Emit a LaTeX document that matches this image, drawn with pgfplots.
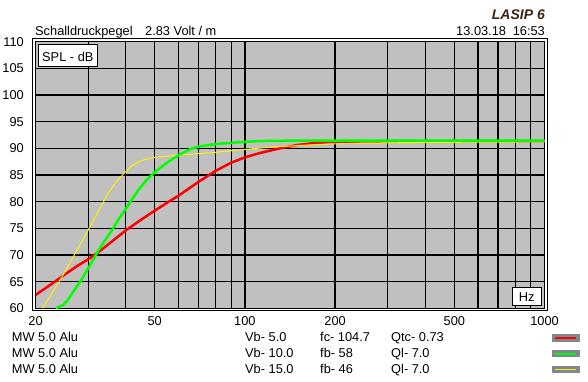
\documentclass[border=0pt]{standalone}
\usepackage{fontspec}
\setmainfont{Liberation Sans}
\usepackage{pgfplots}
\pgfplotsset{compat=1.18}
\definecolor{plotgray}{HTML}{C0C0C0}
\definecolor{swatch}{HTML}{7F8891}
\definecolor{lasip}{HTML}{3A2414}
\newcommand{\f}{\fontsize{12.8}{14}\selectfont}

\pgfplotstableread{
f db
20 62.5
21.5 63.7
23.2 65.0
25 66.3
27.5 67.9
30 69.2
32.4 70.5
35 72.0
40 74.6
45 76.6
50 78.3
55 79.8
60 81.1
70 83.7
80 85.8
90 87.3
100 88.3
112 89.1
131 90.0
149 90.6
172 91.0
208 91.2
250 91.3
400 91.35
1000 91.35
}\redtab

\pgfplotstableread{
f db
21.1 60.0
22.5 62.5
24.7 66.2
27 70.1
30 74.7
32.5 78.3
35 81.6
37.5 84.0
40 85.6
42 86.8
44.7 87.6
47 88.0
50 88.3
60 88.7
70 89.0
80 89.25
100 89.8
122 90.2
149 90.5
188 90.8
248 90.95
400 91.1
1000 91.2
}\yellowtab

\pgfplotstableread{
f db
23.4 60.0
24.0 60.3
24.7 60.6
25.5 61.4
26.5 62.8
28.2 65.0
30 67.5
32.4 70.8
34 72.6
36.2 74.9
38 76.8
40 78.6
42.5 80.9
44.7 82.6
47 84.1
50 85.5
54.9 87.3
60 88.7
65.4 89.8
70 90.3
80 90.8
96 91.15
112 91.35
150 91.45
1000 91.45
}\greentab

\begin{document}
\begin{tikzpicture}[x=1pt,y=1pt]
\path[use as bounding box] (0,0) rectangle (588,382);
\begin{axis}[
  at={(35.5pt,73.7pt)}, anchor=south west,
  scale only axis, width=509pt, height=266.7pt,
  xmode=log, xmin=20, xmax=1000, ymin=60, ymax=110,
  axis background/.style={fill=plotgray},
  xtick={20,30,40,50,60,70,80,90,100,200,300,400,500,600,700,800,900,1000},
  xticklabels={20,,,50,,,,,100,200,,,500,,,,,1000},
  ytick={60,65,70,75,80,85,90,95,100,105,110},
  yticklabels={60,65,70,75,80,85,90,95,100,105,110},
  minor xtick={},
  grid=major, major grid style={black, line width=1.2pt},
  major tick length=0pt,
  axis line style={black, line width=1.5pt},
  xticklabel style={font=\f, anchor=north, inner sep=0pt, yshift=-7.7pt},
  yticklabel style={font=\f, anchor=east, inner sep=0pt, xshift=-11.5pt},
]
\addplot[red, line width=2.5pt, line join=round] table[x=f,y=db] {\redtab};
\addplot[yellow, line width=1pt, line join=round] table[x=f,y=db] {\yellowtab};
\addplot[green, line width=2.5pt, line join=round] table[x=f,y=db] {\greentab};
\end{axis}
% outer frame
\draw[black, line width=1pt] (32.8,71.0) rectangle (547.2,343.1);
% SPL box
\draw[black, line width=1pt, fill=white] (38.5,315.5) rectangle (97,337);
\node[inner sep=0pt, anchor=base west, font=\f] at (42,320.5) {SPL - dB};
% Hz box
\draw[black, line width=1pt, fill=white] (512,76) rectangle (541.5,94);
\node[inner sep=0pt, anchor=base, font=\f] at (526.75,80.5) {Hz};
% titles
\node[inner sep=0pt, anchor=base west, font=\f] at (35,346) {Schalldruckpegel};
\node[inner sep=0pt, anchor=base west, font=\f] at (145,346) {2.83 Volt / m};
\node[inner sep=0pt, anchor=base west, font=\f] at (456,346) {13.03.18};
\node[inner sep=0pt, anchor=base east, font=\f] at (545,346) {16:53};
\node[inner sep=0pt, anchor=base east, text=lasip, font=\fontsize{14}{16}\selectfont\bfseries\itshape] at (545,362) {LASIP 6};
% bottom info
\foreach \yy/\a/\b/\c/\d in {40.3/MW 5.0 Alu/Vb- 5.0/fc- 104.7/Qtc- 0.73, 24.7/MW 5.0 Alu/Vb- 10.0/fb- 58/Ql- 7.0, 8/MW 5.0 Alu/Vb- 15.0/fb- 46/Ql- 7.0}{
  \node[inner sep=0pt, anchor=base west, font=\f] at (11.7,\yy) {\a};
  \node[inner sep=0pt, anchor=base west, font=\f] at (245,\yy) {\b};
  \node[inner sep=0pt, anchor=base west, font=\f] at (320,\yy) {\c};
  \node[inner sep=0pt, anchor=base west, font=\f] at (391,\yy) {\d};
}
% legend swatches
\fill[swatch] (551.7,40.3) rectangle (580,47.7);
\draw[red, line width=2pt] (555,44) -- (576,44);
\fill[swatch] (551.7,24.7) rectangle (580,32);
\draw[green, line width=2pt] (555,28.35) -- (576,28.35);
\fill[swatch] (551.7,8.7) rectangle (580,16);
\draw[yellow, line width=1pt] (555,12.35) -- (576,12.35);
\end{tikzpicture}
\end{document}
